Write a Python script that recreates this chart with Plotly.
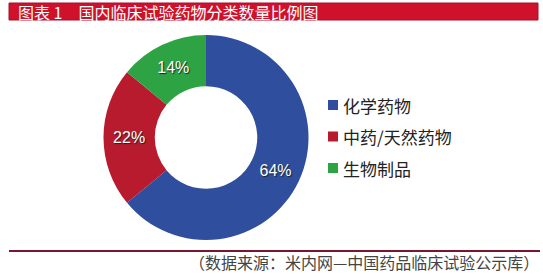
import plotly.graph_objects as go

labels = ["化学药物", "中药/天然药物", "生物制品"]
values = [64, 22, 14]
colors = ["#2F4E9E", "#B81A2E", "#2EA343"]
title_text = "图表 1　国内临床试验药物分类数量比例图"
source_text = "（数据来源：米内网—中国药品临床试验公示库）"

W, H = 543, 280
CJK = "Noto Sans CJK SC"

fig = go.Figure()
fig.add_trace(go.Pie(
    labels=labels, values=values, hole=0.5, sort=False, direction="clockwise",
    rotation=0,
    marker=dict(colors=colors, line=dict(color="white", width=0)),
    textinfo="percent", texttemplate="%{percent:.0%}", textposition="inside",
    insidetextorientation="horizontal",
    textfont=dict(family="Arial, Liberation Sans", size=16, color="white",
                  shadow="1px 1px 1px #222"),
    domain=dict(x=[102 / W, 310 / W], y=[(H - 240) / H, (H - 35) / H]),
    showlegend=False,
))

shapes = [
    dict(type="rect", xref="paper", yref="paper",
         x0=9 / W, x1=538 / W, y0=(H - 20) / H, y1=(H - 3) / H,
         fillcolor="#D0112B", line=dict(color="#A5102E", width=1)),
    dict(type="line", xref="paper", yref="paper",
         x0=9 / W, x1=540 / W, y0=(H - 251) / H, y1=(H - 251) / H,
         line=dict(color="#7A1530", width=2)),
]
annotations = [
    dict(text=title_text, xref="paper", yref="paper", x=16 / W, y=(H - 12) / H,
         xanchor="left", yanchor="middle", showarrow=False,
         font=dict(family=CJK, size=16, color="white")),
    dict(text=source_text, xref="paper", yref="paper", x=541 / W, y=(H - 262) / H,
         xanchor="right", yanchor="middle", showarrow=False,
         font=dict(family=CJK, size=16, color="#444")),
]

# legend built from the category/colour lists
row0, row_gap = 105, 31.5
for i, (lab, col) in enumerate(zip(labels, colors)):
    yc = row0 + i * row_gap
    shapes.append(dict(type="rect", xref="paper", yref="paper",
                       x0=328 / W, x1=338 / W, y0=(H - yc - 5) / H, y1=(H - yc + 5) / H,
                       fillcolor=col, line=dict(width=0)))
    annotations.append(dict(text=lab, xref="paper", yref="paper", x=341 / W, y=(H - yc) / H,
                            xanchor="left", yanchor="middle", showarrow=False,
                            font=dict(family=CJK, size=17, color="#222")))

fig.update_layout(
    width=W, height=H,
    margin=dict(l=0, r=0, t=0, b=0),
    paper_bgcolor="white", plot_bgcolor="white",
    font=dict(family=CJK),
    shapes=shapes,
    annotations=annotations,
)

fig.write_html("out.html")
